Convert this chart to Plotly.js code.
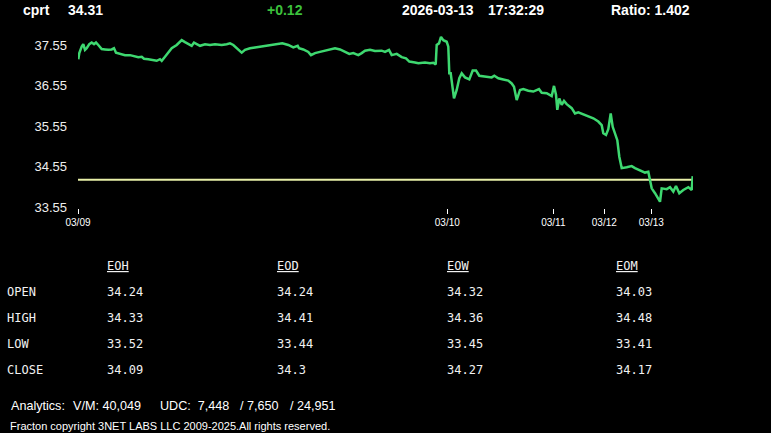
<!DOCTYPE html>
<html>
<head>
<meta charset="utf-8">
<script src="https://cdn.plot.ly/plotly-3.0.1.min.js"></script>
<style>
  html, body { margin: 0; padding: 0; background: #000; }
  #chart { width: 771px; height: 433px; }
</style>
</head>
<body>
<div id="chart"></div>
<script>
// ---------------- DATA ----------------
const symbol = 'cprt';
const lastPrice = '34.31';
const change = '+0.12';
const dateStr = '2026-03-13';
const timeStr = '17:32:29';
const ratio = 'Ratio: 1.402';

// sample position (intraday tick index) and price
const t = [0.3,1.3,3.7,5.3,7,8.7,11.3,13.7,16,18,20.3,23.7,27,30.3,33.7,36,38,42,47,52,57,60.3,63.7,66,70.3,75.3,78.7,82,83.7,87,90.3,93.7,98.7,103.7,107,110.3,113.7,116,120.3,122,127,132,137,143.7,148.7,152,155.3,158.7,163.7,167,172,177,183.7,188.7,193.7,198.7,204.3,210.3,215.3,219.7,221,225.3,230.3,233,237,242,247,252,257,262,267,271.3,275.3,280.3,283.7,287,292,297,303.7,307,311,313.7,318.7,323.7,328,331.3,337,340.3,347,352,355.3,357.7,358.7,361,363,365.3,368.7,370.3,371.3,372.7,376,378.7,381.3,383.7,387,391.3,394.7,398,401.3,407,413.7,416.3,420.3,425.3,430.3,433.7,436,438.7,442,445.3,450.3,455.3,461,463.7,468.7,473.7,476,478,479.3,481.3,483.7,486,488.7,493.7,497,500.3,505.3,510.3,515.3,520.3,523.7,525.3,528,530.3,532.7,534.7,537,539.3,541.3,543.7,548.7,553.7,557,562,567,570.3,572,573.7,577,580.3,582,583.7,588.7,592,595.3,598,601.3,605.3,610.3,613.7,614.7];
const price = [37.20,37.35,37.51,37.57,37.43,37.47,37.57,37.61,37.57,37.61,37.55,37.45,37.44,37.43,37.44,37.47,37.36,37.33,37.30,37.30,37.28,37.25,37.26,37.21,37.20,37.18,37.16,37.20,37.16,37.26,37.35,37.47,37.55,37.67,37.62,37.57,37.53,37.61,37.55,37.53,37.57,37.55,37.57,37.55,37.57,37.59,37.55,37.47,37.36,37.43,37.47,37.49,37.51,37.53,37.55,37.56,37.59,37.55,37.49,37.53,37.47,37.44,37.38,37.30,37.35,37.38,37.41,37.45,37.47,37.44,37.38,37.33,37.35,37.30,37.35,37.41,37.43,37.40,37.41,37.38,37.43,37.30,37.33,37.25,37.22,37.14,37.12,37.10,37.12,37.10,37.11,37.07,37.55,37.59,37.75,37.67,37.63,37.51,36.85,36.85,36.23,36.44,36.73,36.85,36.75,36.70,36.92,36.92,36.79,36.77,36.75,36.79,36.73,36.70,36.67,36.60,36.52,36.19,36.44,36.46,36.42,36.40,36.46,36.37,36.36,36.29,36.54,36.32,35.95,36.23,36.07,36.17,36.09,35.99,35.86,35.89,35.84,35.80,35.74,35.66,35.57,35.37,35.33,35.47,35.86,35.53,35.37,35.20,34.79,34.51,34.53,34.56,34.51,34.46,34.40,34.42,34.22,34.01,33.89,33.77,33.68,34.01,33.99,34.04,33.93,34.07,33.89,33.97,34.04,33.97,34.31];

const refLevel = 34.22;
const tRange = [0, 615];

const dayTicks = [0, 369.3, 475.3, 526.3, 573.3];
const dayLabels = ['03/09', '03/10', '03/11', '03/12', '03/13'];
const priceTicks = [33.55, 34.55, 35.55, 36.55, 37.55];

const rowNames = ['OPEN', 'HIGH', 'LOW', 'CLOSE'];
const colNames = ['EOH', 'EOD', 'EOW', 'EOM'];
const eoh = [34.24, 34.33, 33.52, 34.09];
const eod = [34.24, 34.41, 33.44, 34.3];
const eow = [34.32, 34.36, 33.45, 34.27];
const eom = [34.03, 34.48, 33.41, 34.17];

const vm = '40,049';
const udc = ['7,448', '7,650', '24,951'];
const copyright = 'Fracton copyright 3NET LABS LLC 2009-2025.All rights reserved.';

// ---------------- LAYOUT HELPERS ----------------
const W = 771, H = 433;
const M = {l: 78, r: 78, t: 35, b: 225};
const PW = W - M.l - M.r, PH = H - M.t - M.b;
const px = x => (x - M.l) / PW;
const py = y => (H - M.b - y) / PH;

const SANS = 'Liberation Sans, Arial, sans-serif';
const MONO = 'DejaVu Sans Mono, Liberation Mono, monospace';

function ann(text, x, y, font, extra) {
  return Object.assign({
    text: text, xref: 'paper', yref: 'paper', x: px(x), y: py(y),
    xanchor: 'left', yanchor: 'middle', showarrow: false,
    borderpad: 0, font: font
  }, extra || {});
}

const hdrFont = {family: SANS, size: 14, color: '#ffffff', weight: 'bold'};
const annotations = [
  ann('<b>' + symbol + '</b>', 22, 10, hdrFont),
  ann('<b>' + lastPrice + '</b>', 66.5, 10, hdrFont),
  ann('<b>' + change + '</b>', 265.5, 10, Object.assign({}, hdrFont, {color: '#3cc03c'})),
  ann('<b>' + dateStr + '</b>', 400.5, 10, hdrFont),
  ann('<b>' + timeStr + '</b>', 486.5, 10, hdrFont),
  ann('<b>' + ratio + '</b>', 610, 10, hdrFont)
];

const tblFont = {family: MONO, size: 12, color: '#f2f2f2'};
const colX = [106, 275.5, 445.5, 614.5];
const rowY = [292, 318, 344, 369.5];
const cols = [eoh, eod, eow, eom];
colNames.forEach((c, i) => annotations.push(ann('<u>' + c + '</u>', colX[i], 266, tblFont)));
rowNames.forEach((r, j) => annotations.push(ann(r, 6, rowY[j], tblFont)));
cols.forEach((col, i) => col.forEach((v, j) =>
  annotations.push(ann(String(v), colX[i], rowY[j], tblFont))));

const ftFont = {family: SANS, size: 12.6, color: '#ffffff'};
annotations.push(ann('Analytics:', 10, 406, ftFont));
annotations.push(ann('V/M: ' + vm, 71.5, 406, ftFont));
annotations.push(ann('UDC:&nbsp;&nbsp;' + udc[0], 159, 406, ftFont));
annotations.push(ann('/ ' + udc[1], 239, 406, ftFont));
annotations.push(ann('/ ' + udc[2], 289, 406, ftFont));
annotations.push(ann(copyright, 8.5, 425.5, {family: SANS, size: 11, color: '#ffffff'}));

const data = [
  {
    x: tRange, y: [refLevel, refLevel], type: 'scatter', mode: 'lines',
    line: {color: '#e8f0a8', width: 2}, hoverinfo: 'skip'
  },
  {
    x: t, y: price, type: 'scatter', mode: 'lines',
    line: {color: '#3ed870', width: 2.5}
  }
];

const layout = {
  width: W, height: H,
  margin: M,
  paper_bgcolor: '#000000', plot_bgcolor: '#000000',
  showlegend: false,
  font: {family: SANS, color: '#ffffff'},
  xaxis: {
    range: tRange, tickmode: 'array', tickvals: dayTicks, ticktext: dayLabels,
    ticks: 'outside', ticklen: 5, tickwidth: 1, tickcolor: '#ffffff',
    showgrid: false, zeroline: false, showline: false,
    tickfont: {family: SANS, size: 10, color: '#ffffff'}, ticklabelstandoff: 0
  },
  yaxis: {
    range: [33.525, 37.797], tickmode: 'array', tickvals: priceTicks,
    ticktext: priceTicks.map(v => v.toFixed(2)),
    ticks: '', showgrid: false, zeroline: false, showline: false,
    tickfont: {family: SANS, size: 13, color: '#eeeeee'}, ticklabelstandoff: 10
  },
  annotations: annotations
};

Plotly.newPlot('chart', data, layout, {displayModeBar: false, staticPlot: true});
</script>
</body>
</html>
